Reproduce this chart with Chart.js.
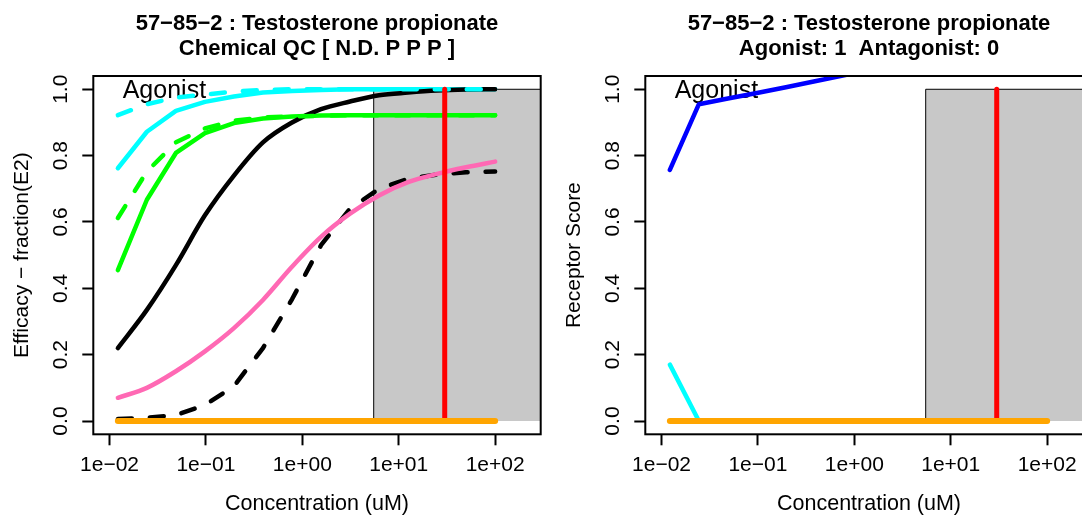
<!DOCTYPE html>
<html>
<head>
<meta charset="utf-8">
<script src="https://cdn.jsdelivr.net/npm/chart.js@4.4.0/dist/chart.umd.min.js"></script>
<style>
html,body{margin:0;padding:0;background:#fff;overflow:hidden;width:1082px;height:517px;}
#wrap{position:relative;width:1082px;height:517px;overflow:hidden;background:#fff;}
canvas{position:absolute;top:0;}
#c1{left:0;}
#c2{left:552px;}
</style>
</head>
<body>
<div id="wrap">
<canvas id="c1" width="551" height="517"></canvas>
<canvas id="c2" width="551" height="517"></canvas>
</div>
<script>
// ---------------- data ----------------
const concentrations = [0.01221, 0.02441, 0.04883, 0.09766, 0.1953, 0.3906, 0.7813, 1.5625, 3.125, 6.25, 12.5, 25, 50, 100];

// left panel: efficacy (fraction of E2)
const efficacyBlackSolid  = [0.22, 0.335, 0.47, 0.62, 0.74, 0.84, 0.90, 0.94, 0.963, 0.982, 0.99, 0.996, 0.999, 1.0];
const efficacyBlackDashed = [0.006, 0.01, 0.018, 0.048, 0.105, 0.22, 0.367, 0.53, 0.64, 0.70, 0.73, 0.743, 0.75, 0.752];
const efficacyPink        = [0.07, 0.10, 0.15, 0.21, 0.28, 0.365, 0.465, 0.555, 0.625, 0.68, 0.72, 0.745, 0.765, 0.782];
const efficacyCyanSolid   = [0.762, 0.872, 0.935, 0.962, 0.978, 0.99, 0.995, 0.998, 1.0, 1.0, 1.0, 1.0, 1.0, 1.0];
const efficacyCyanDashed  = [0.922, 0.955, 0.975, 0.984, 0.993, 0.998, 1.0, 1.0, 1.0, 1.0, 1.0, 1.0, 1.0, 1.0];
const efficacyGreenSolid  = [0.455, 0.667, 0.808, 0.868, 0.898, 0.912, 0.918, 0.921, 0.922, 0.922, 0.922, 0.922, 0.922, 0.922];
const efficacyGreenDashed = [0.612, 0.752, 0.84, 0.882, 0.905, 0.915, 0.918, 0.92, 0.922, 0.922, 0.922, 0.922, 0.922, 0.922];
const efficacyOrange      = [0, 0, 0, 0, 0, 0, 0, 0, 0, 0, 0, 0, 0, 0];

// right panel: receptor score
const receptorBlue   = [0.757, 0.955, 0.972, 0.989, 1.006, 1.024, 1.042, 1.06, 1.078, 1.096, 1.11, 1.12, 1.13, 1.14];
const receptorCyan   = [0.17, 0, 0, 0, 0, 0, 0, 0, 0, 0, 0, 0, 0, 0];
const receptorOrange = [0, 0, 0, 0, 0, 0, 0, 0, 0, 0, 0, 0, 0, 0];

// shaded region and marker line
const shadeStart = 5.5;
const shadeEnd = 10000;
const shadeTop = 1.0;
const redLineX = 30;

// axes
const xMin = 0.00679, xMax = 297;
const yMin = -0.04, yMax = 1.04;
const xTickValues = [0.01, 0.1, 1, 10, 100];
const xTickLabels = ["1e\u221202", "1e\u221201", "1e+00", "1e+01", "1e+02"];
const yTickValues = [0, 0.2, 0.4, 0.6, 0.8, 1.0];
const yTickLabels = ["0.0", "0.2", "0.4", "0.6", "0.8", "1.0"];

const agonistLabelX = 0.0137;
const agonistLabelY = 0.994;

const leftTitle  = ["57\u221285\u22122 : Testosterone propionate", "Chemical QC [ N.D. P P P ]"];
const rightTitle = ["57\u221285\u22122 : Testosterone propionate", "Agonist: 1  Antagonist: 0"];
const leftYTitle  = "Efficacy \u2212 fraction(E2)";
const rightYTitle = "Receptor Score";
const xTitle = "Concentration (uM)";

// ---------------- rendering ----------------
const FONT = '"Liberation Sans", Arial, Helvetica, sans-serif';
Chart.defaults.font.family = FONT;
Chart.defaults.color = '#000';

function curve(values, color, order, extra) {
  return Object.assign({
    data: concentrations.map((c, i) => ({x: c, y: values[i]})),
    borderColor: color, backgroundColor: color, borderWidth: 4.5,
    pointRadius: 0, pointHoverRadius: 0, fill: false, tension: 0,
    borderCapStyle: 'round', borderJoinStyle: 'round', clip: 0, order: order
  }, extra || {});
}
function shadeDataset() {
  return {
    data: [{x: shadeStart, y: 0}, {x: shadeStart, y: shadeTop}, {x: shadeEnd, y: shadeTop}, {x: shadeEnd, y: 0}],
    borderColor: '#000', borderWidth: 1, backgroundColor: '#C8C8C8', fill: 'origin',
    pointRadius: 0, pointHoverRadius: 0, tension: 0, clip: 0, order: 20
  };
}
function redDataset() {
  return {
    data: [{x: redLineX, y: 0}, {x: redLineX, y: shadeTop}],
    borderColor: '#FF0000', borderWidth: 5, pointRadius: 0, pointHoverRadius: 0,
    fill: false, borderCapStyle: 'round', clip: 0, order: 2
  };
}

const TICK_LEN = 11;
const Y_LABEL_GAP = 32.3;   // distance from axis line to centre of rotated y tick labels

const panelPlugin = {
  id: 'panel',
  beforeDatasetsDraw(chart, args, opts) {
    const {ctx, scales} = chart;
    ctx.save();
    ctx.font = '25px ' + FONT;
    ctx.fillStyle = '#000';
    ctx.textAlign = 'left';
    ctx.textBaseline = 'middle';
    ctx.fillText(opts.label, scales.x.getPixelForValue(agonistLabelX), scales.y.getPixelForValue(agonistLabelY));
    ctx.restore();
  },
  afterDatasetsDraw(chart) {
    const {ctx, chartArea: a} = chart;
    ctx.save();
    ctx.strokeStyle = '#000';
    ctx.lineWidth = 2;
    ctx.strokeRect(a.left, a.top, a.right - a.left, a.bottom - a.top);
    ctx.restore();
  },
  afterDraw(chart) {
    // rotated (vertical) y tick labels, as in base R graphics
    const {ctx} = chart;
    const ys = chart.scales.y;
    ctx.save();
    ctx.font = '21px ' + FONT;
    ctx.fillStyle = '#000';
    ctx.textAlign = 'center';
    ctx.textBaseline = 'middle';
    ys.ticks.forEach((t, i) => {
      ctx.save();
      ctx.translate(ys.right - Y_LABEL_GAP, ys.getPixelForValue(t.value));
      ctx.rotate(-Math.PI / 2);
      ctx.fillText(yTickLabels[i], 0, 0);
      ctx.restore();
    });
    ctx.restore();
  }
};

const tickGrid = {display: true, drawOnChartArea: false, drawTicks: true, tickLength: TICK_LEN, tickWidth: 2, tickColor: '#000'};

function makeChart(id, titleLines, yTitle, datasets) {
  return new Chart(document.getElementById(id), {
    type: 'line',
    data: {datasets: datasets},
    plugins: [panelPlugin],
    options: {
      responsive: false, animation: false, events: [],
      layout: {padding: {left: 0, right: 10.3, top: 0, bottom: 0}},
      plugins: {
        legend: {display: false}, tooltip: {enabled: false},
        panel: {label: 'Agonist'},
        title: {display: true, text: titleLines, fullSize: false, color: '#000',
                font: {size: 22, weight: 'bold', lineHeight: 1.107},
                padding: {top: 12, bottom: 15.3}}
      },
      scales: {
        x: {
          type: 'logarithmic', min: xMin, max: xMax,
          afterBuildTicks: s => { s.ticks = xTickValues.map(v => ({value: v})); },
          afterFit: s => { s.height = 82.7; },
          ticks: {callback: (v, i) => xTickLabels[i], autoSkip: false, maxRotation: 0, minRotation: 0,
                  padding: 7.6, color: '#000', font: {size: 21, lineHeight: 1.2}},
          grid: tickGrid, border: {display: false},
          title: {display: true, text: xTitle, color: '#000', font: {size: 21.5, lineHeight: 1.2}, padding: {top: 0, bottom: 0}}
        },
        y: {
          type: 'linear', min: yMin, max: yMax,
          afterBuildTicks: s => { s.ticks = yTickValues.map(v => ({value: v})); },
          afterFit: s => { s.width = 93.3; },
          ticks: {display: false, callback: (v, i) => yTickLabels[i], autoSkip: false},
          grid: tickGrid, border: {display: false},
          title: {display: true, text: yTitle, color: '#000', font: {size: 21, lineHeight: 1.2}, padding: {top: 9.2, bottom: 0}}
        }
      }
    }
  });
}

makeChart('c1', leftTitle, leftYTitle, [
  shadeDataset(),
  curve(efficacyCyanSolid, '#00FFFF', 11),
  curve(efficacyGreenSolid, '#00FF00', 10),
  curve(efficacyBlackSolid, '#000000', 9, {cubicInterpolationMode: 'monotone'}),
  curve(efficacyGreenDashed, '#00FF00', 8, {borderDash: [14, 18]}),
  curve(efficacyBlackDashed, '#000000', 7, {borderDash: [14, 18]}),
  curve(efficacyCyanDashed, '#00FFFF', 6, {borderDash: [14, 18]}),
  curve(efficacyPink, '#FF69B4', 5, {cubicInterpolationMode: 'monotone'}),
  redDataset(),
  curve(efficacyOrange, '#FFA500', 1, {borderWidth: 6})
]);

makeChart('c2', rightTitle, rightYTitle, [
  shadeDataset(),
  curve(receptorBlue, '#0000FF', 5),
  curve(receptorCyan, '#00FFFF', 6),
  redDataset(),
  curve(receptorOrange, '#FFA500', 1, {borderWidth: 6})
]);
</script>
</body>
</html>
